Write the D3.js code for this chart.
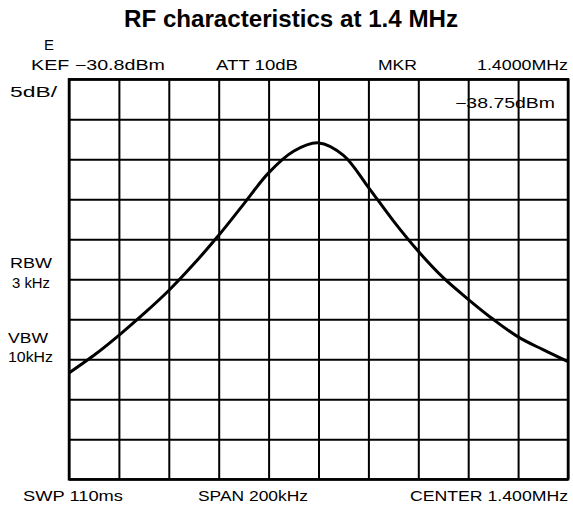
<!DOCTYPE html>
<html>
<head>
<meta charset="utf-8">
<script src="https://cdn.jsdelivr.net/npm/d3@7"></script>
<style>
  body { margin: 0; background: #fff; }
  text { font-family: "Liberation Sans", Arial, sans-serif; fill: #000; }
  .grid line { stroke: #000; stroke-width: 2; }
  .grid path { display: none; }
</style>
</head>
<body>
<svg id="chart" width="573" height="506"></svg>
<script>
// spectrum analyzer trace
var freqKHz = [1300, 1310, 1320, 1330, 1340, 1350, 1360, 1370, 1380, 1390,
               1400, 1410, 1420, 1430, 1440, 1450, 1460, 1470, 1480, 1490, 1500];
var levelDbm = [-67.5, -65.3, -62.8, -60.1, -57.2, -53.9, -50.3, -46.4, -42.5, -39.8,
                -38.75, -40.3, -44.3, -48.5, -52.3, -55.6, -58.3, -60.8, -63.0, -64.6, -66.1];

var refLevel = -30.8;     // dBm, top line
var dbPerDiv = 5;
var centerKHz = 1400;
var spanKHz = 200;
var divs = 10;

var headerLabels = ["KEF \u221230.8dBm", "ATT 10dB", "MKR", "1.4000MHz"];
var footerLabels = ["SWP 110ms", "SPAN 200kHz", "CENTER 1.400MHz"];
var sideLabels = ["5dB/", "RBW", "3 kHz", "VBW", "10kHz"];
var markerText = "\u221238.75dBm";

(function() {
  var svg = d3.select("svg#chart");

  var left = 69, right = 568, top = 79.3, bottom = 479.3;

  var x = d3.scaleLinear()
    .domain([centerKHz - spanKHz / 2, centerKHz + spanKHz / 2])
    .range([left, right]);
  var y = d3.scaleLinear()
    .domain([refLevel, refLevel - dbPerDiv * divs])
    .range([top, bottom]);

  var xTicks = d3.range(divs + 1).map(function(i) { return x.domain()[0] + i * spanKHz / divs; });
  var yTicks = d3.range(divs + 1).map(function(i) { return refLevel - i * dbPerDiv; });

  // grid lines via axes
  svg.append("g")
    .attr("class", "grid")
    .attr("transform", "translate(0," + bottom + ")")
    .call(d3.axisBottom(x).tickValues(xTicks).tickSize(-(bottom - top)).tickFormat(""));

  svg.append("g")
    .attr("class", "grid")
    .attr("transform", "translate(" + left + ",0)")
    .call(d3.axisLeft(y).tickValues(yTicks).tickSize(-(right - left)).tickFormat(""));

  svg.append("rect")
    .attr("x", left).attr("y", top)
    .attr("width", right - left).attr("height", bottom - top)
    .attr("fill", "none").attr("stroke", "#000").attr("stroke-width", 2.5);

  var trace = freqKHz.map(function(f, i) { return [f, levelDbm[i]]; });
  var line = d3.line()
    .x(function(d) { return x(d[0]); })
    .y(function(d) { return y(d[1]); })
    .curve(d3.curveCatmullRom.alpha(0.5));

  svg.append("path")
    .datum(trace)
    .attr("d", line)
    .attr("fill", "none")
    .attr("stroke", "#000")
    .attr("stroke-width", 3)
    .attr("stroke-linejoin", "round");

  // title
  svg.append("text")
    .attr("x", 291).attr("y", 27)
    .attr("text-anchor", "middle")
    .attr("textLength", 334)
    .attr("lengthAdjust", "spacingAndGlyphs")
    .style("font-size", "23px")
    .style("font-weight", "bold")
    .text("RF characteristics at 1.4 MHz");

  function label(t, x0, y0, w, size) {
    var el = svg.append("text")
      .attr("x", x0).attr("y", y0)
      .style("font-size", (size || 14) + "px")
      .text(t);
    if (w) el.attr("textLength", w).attr("lengthAdjust", "spacingAndGlyphs");
    return el;
  }

  label("E", 44, 50, 10, 15);
  var hx = [31, 216, 378, 477], hw = [134, 82, 39, 91];
  headerLabels.forEach(function(t, i) { label(t, hx[i], 70, hw[i]); });

  var sx = [10, 10, 12, 8, 8], sy = [97, 268, 288, 343, 362], sw = [47, 42, 38, 40, 45];
  sideLabels.forEach(function(t, i) { label(t, sx[i], sy[i], sw[i]); });

  label(markerText, 455, 108, 100);

  var fx = [23, 198, 410], fw = [100, 110, 158];
  footerLabels.forEach(function(t, i) { label(t, fx[i], 501, fw[i], 15); });
})();
</script>
</body>
</html>
